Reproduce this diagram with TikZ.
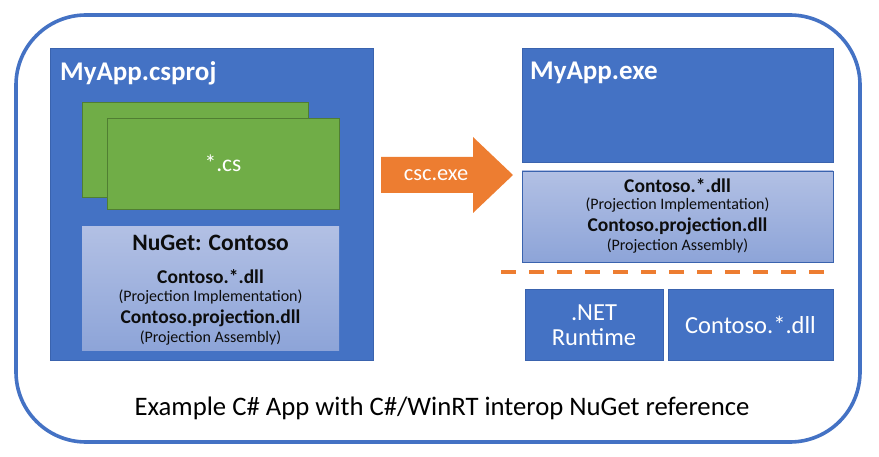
\documentclass[tikz,border=0pt]{standalone}
\usepackage{fontspec}
\setmainfont{Carlito}
\definecolor{msblue}{HTML}{4472C4}
\definecolor{msblueline}{HTML}{3A63AE}
\definecolor{msgreen}{HTML}{70AD47}
\definecolor{msgreenline}{HTML}{507E32}
\definecolor{msorange}{HTML}{ED7D31}
\definecolor{gradtop}{HTML}{B2C0E4}
\definecolor{gradbot}{HTML}{8DA4D8}
\definecolor{textdark}{HTML}{0D0D0D}
\tikzset{
  bluebox/.style={draw=msblueline, line width=0.8pt, fill=msblue, inner sep=0pt, outer sep=0pt},
  greenbox/.style={draw=msgreenline, line width=0.8pt, fill=msgreen, inner sep=0pt, text=white, font=\fontsize{23.5}{28}\selectfont},
  gradbox/.style={top color=gradtop, bottom color=gradbot, inner sep=0pt, outer sep=0pt},
  titletext/.style={text=white, font=\fontsize{27}{32}\selectfont\bfseries, anchor=west, inner sep=0pt},
  boldline/.style={font=\fontsize{19.5}{23}\selectfont\bfseries, text=textdark, inner sep=0pt},
  smallline/.style={font=\fontsize{16}{19}\selectfont, text=textdark, inner sep=0pt},
  whitetext/.style={text=white, font=\fontsize{24.5}{29}\selectfont, align=center, inner sep=0pt},
}
\begin{document}
\begin{tikzpicture}[x=1pt,y=-1pt]
\useasboundingbox (0,0) rectangle (879,457);
% outer frame
\draw[msblue, line width=3.6pt, rounded corners=70pt] (16,15) rectangle (860,442);

% left project box
\node[bluebox, minimum width=323pt, minimum height=312pt] (proj) at (211.5,204) {};
\node[titletext] (projtitle) at (60,73) {MyApp.csproj};
\node[greenbox, minimum width=226pt, minimum height=95pt] (csback) at (195,149.5) {};
\node[greenbox, minimum width=232pt, minimum height=91pt] (csfront) at (223,163.5) {*.cs};
\node[gradbox, minimum width=257pt, minimum height=124pt] (nuget) at (210.5,289) {};
\node[font=\fontsize{23.5}{28}\selectfont\bfseries, text=textdark, inner sep=0pt] (nugettitle) at (210.5,243) {NuGet: Contoso};
\node[boldline] (ldll) at (210.5,277) {Contoso.*.dll};
\node[smallline] (limpl) at (210.5,297.5) {(Projection Implementation)};
\node[boldline] (lproj) at (210.5,318) {Contoso.projection.dll};
\node[smallline] (lasm) at (210.5,338.5) {(Projection Assembly)};

% arrow
\fill[msorange] (381,157) -- (473,157) -- (473,137) -- (513,175) -- (473,213) -- (473,193) -- (381,193) -- cycle;
\node[text=white, font=\fontsize{22.4}{26}\selectfont, inner sep=0pt] (csc) at (436,175) {csc.exe};

% right side
\node[bluebox, minimum width=311pt, minimum height=114pt] (exe) at (677.5,105) {};
\node[titletext] (exetitle) at (530,73) {MyApp.exe};
\node[gradbox, draw=msblueline, line width=0.6pt, minimum width=311pt, minimum height=91pt] (rgrad) at (677.5,216.5) {};
\node[boldline] (rdll) at (677.5,185.5) {Contoso.*.dll};
\node[smallline] (rimpl) at (677.5,205.5) {(Projection Implementation)};
\node[boldline] (rproj) at (677.5,226) {Contoso.projection.dll};
\node[smallline] (rasm) at (677.5,246) {(Projection Assembly)};

\coordinate (dashL) at (501,272);
\coordinate (dashR) at (826,272);
\draw[msorange, line width=4pt, dash pattern=on 14.5pt off 13.5pt] (dashL) -- (dashR);

\node[bluebox, minimum width=138pt, minimum height=71pt] (net) at (594,324.5) {};
\node[whitetext] (nettext) at (594,325) {.NET\\[-4pt]Runtime};
\node[bluebox, minimum width=165pt, minimum height=71pt] (cdll) at (750.5,324.5) {};
\node[whitetext] (cdlltext) at (750.5,324.5) {Contoso.*.dll};

% caption
\node[font=\fontsize{26.7}{32}\selectfont, text=black, inner sep=0pt] (caption) at (442,408) {Example C\# App with C\#/WinRT interop NuGet reference};
\end{tikzpicture}
\end{document}
